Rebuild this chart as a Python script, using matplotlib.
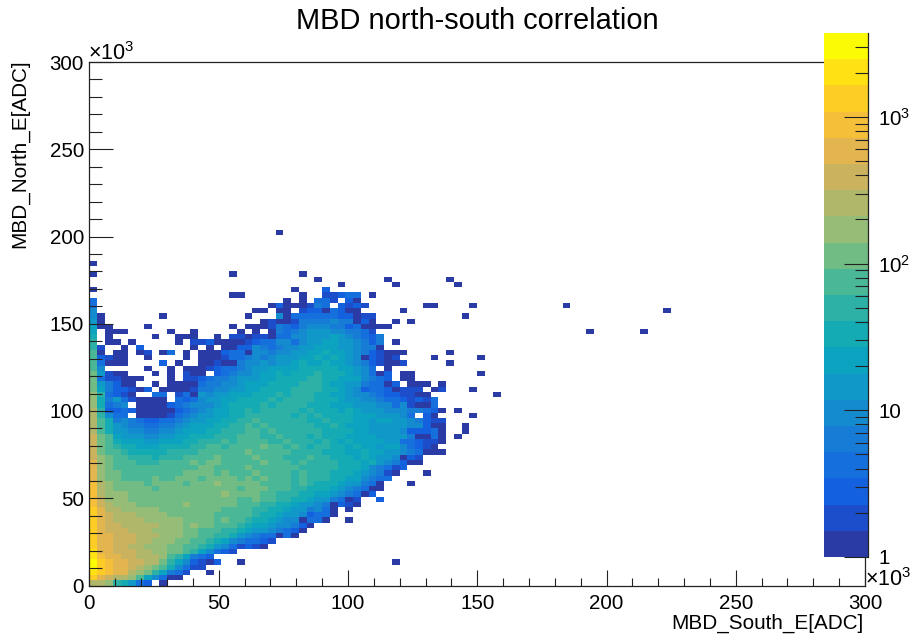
import numpy as np
import matplotlib
matplotlib.use('Agg')
import matplotlib.pyplot as plt
from matplotlib.colors import ListedColormap, BoundaryNorm

plt.rcParams['font.family'] = 'Liberation Sans'
plt.rcParams['mathtext.default'] = 'regular'

W, H = 912, 639

# colour of each contour band, bottom to top of the palette
band_colors = ['#2b3ba6', '#1c4ecb', '#1461df', '#1570de', '#177cd6',
               '#158bcf', '#0f98c8', '#0ca3c0', '#14abb4', '#2db1a6',
               '#4ab897', '#71bb85', '#95bd77', '#b0b76a', '#cab25f',
               '#e3b54f', '#f6bf3a', '#fdcc25', '#ffe114', '#fcfb06']
level_chars = '0123456789abcdefghij'
zmax = 3724

rows = [
    "0",
    "",
    "0......... ........0. .......0..",
    ".......... .......... .........0 ........0. ......0...",
    ".......... .......... .......... ..0......0 .......0..",
    "0......... .......... ......0... 2.........",
    ".......... ........00 .......0.. 11233.0...",
    "3......... .......... .....0.0.3 31.20.....",
    "3......... .......... ...0200014 3.2121.... ...00....0",
    "5......... .......... .00.00.122 03200..... 0.........",
    "50.......0 .......... 0...503333 3322011... ........0.",
    "60........ .......... ..01001444 4544020..0 .0........",
    "700....0.. ........0. 0001432455 544230000.",
    "7.000..... 0..0.....0 .0.0434566 6554431...",
    "8.0.....0. .000..0.11 0110335566 67654324..",
    "9.00.0.... .0.1120000 1233553566 77665424.0",
    "91..0.2... ...0.0.002 2543455667 77665440..",
    "a0.00.01.0 3.0.000233 0554556677 8776542100 0.....0...",
    "a2100..0.. ..0.000133 4545666778 7876502101 ....0..... 0.........",
    "a3000....2 .0..001004 5565667877 8776542100 1.....0...",
    "a5.....0.. 0.00012334 5667777888 8877653.0.",
    "b6100...0. 0.100.2345 5677878889 888765302. 00........ 0.........",
    "b311000... 0.11234456 6677888899 887775432. 00........",
    "b64200..0. 0000344556 7778888999 8776643302 .000.0....",
    "b7422102.0 0001445566 7788889999 8876523320 111.01...0",
    "c93210..33 .130656677 7888989998 8776554322 1100...... ..0.......",
    "c846310000 .323566778 8889899998 8876655433 21213.....",
    "c8345.0000 2345556788 8898999988 8777666553 51003.....",
    "d922320000 0234567788 9899999898 8878766655 544320.0..",
    "d9533.0000 1345667788 9999998989 8888777666 53.20....0",
    "da84543223 3456677889 9a99999988 9888776776 654211....",
    "da86544334 4567778899 a9a9999998 8987776666 655200..0.",
    "da86655445 5677788999 aa9a999999 8888776666 522230..0.",
    "eba7666556 677888999a aa99a99989 8887777666 640030.0..",
    "eba8777667 7788999a9a aaa99a9998 9878777766 332110....",
    "eba9887778 88899aa9aa aabaa9a989 9887877677 53210.....",
    "ebaa988888 9999aaaaaa baaaaa9999 8887787766 543000....",
    "ecbaa99989 99aaaabaaa abaaa999a9 9888787665 021.......",
    "fcbaaa999a aaababbaaa aabaaa9a99 9988878654 200.......",
    "fcbaaaaaaa aaaabbaaaa baaaaaa999 9988875431 2.........",
    "fcbbaaaaaa aabbbbabaa abaaaa9a99 9888765410 ...0......",
    "fcbbaaaaba abbbabbbba babaaa9a99 988775433.",
    "gdcbbbbabb bbabbbcbbb bbaaaa9a98 88766430.. .0........",
    "gdcbbbbbab bbbbbbbbba bbbaaa9988 87654300..",
    "gdcccbbbbb bbbbbbbcbb bbaa999887 7654302...",
    "gecccbbbbb bbbbbbbbba abaa998876 64301..2..",
    "gedcccbbbb bbcbbbbbba aa99887665 40210.....",
    "hfddcccccb bbbbbbbaaa a998876645 30.0......",
    "hfedddcccc bbbbbbaaaa a988766523 30........",
    "hfeddddccc ccbbbbabaa 9887655033 0..0......",
    "hfeedddddc ccbcbbaaa9 877655420.",
    "hfeeedddcc ccbbaaa998 76654320..",
    "hffeeedddc ccbbaa9986 5433030...",
    "hffeeeddcc cbbaa98754 3321......",
    "hffeeddccc bbaa986531 210.......",
    "iffeeeddcc bba975321.",
    "igffeedddc a97432....",
    "jhgffeeddb 9752102..0",
    "jhgffedcba 85311.....",
    "ihgffdcb97 431..0....",
    "hfeddca753 00........",
    "ddc98632.0",
]

# lone bins outside the strip above
far_cols = [24, 61, 74, 64, 71, 39]
far_rows = [67, 53, 52, 48, 48, 4]

x_edges = np.linspace(0, 300, 101)
y_edges = np.linspace(0, 300, 101)

band_edges = np.logspace(0, np.log10(zmax), 21)
band_mid = np.sqrt(band_edges[:-1] * band_edges[1:])

counts = np.full((100, 100), np.nan)
for k, r in enumerate(rows):
    j = 61 - k
    for i, c in enumerate(r.replace(' ', '')):
        if c != '.':
            counts[j, i] = band_mid[level_chars.index(c)]
for i, j in zip(far_cols, far_rows):
    counts[j, i] = band_mid[0]

cmap = ListedColormap(band_colors)
norm = BoundaryNorm(band_edges, 20)


def box(l, t, r, b):
    return [l / W, 1 - b / H, (r - l) / W, (b - t) / H]


fig = plt.figure(figsize=(W / 100, H / 100), dpi=100)
ax = fig.add_axes(box(89.5, 62, 865, 585.5))
ax.pcolormesh(x_edges, y_edges, np.ma.masked_invalid(counts), cmap=cmap, norm=norm,
              antialiased=True, linewidth=0, edgecolor='face')
ax.set_xlim(0, 300)
ax.set_ylim(0, 300)
ax.set_xticks(np.arange(0, 301, 50))
ax.set_yticks(np.arange(0, 301, 50))
ax.set_xticks(np.arange(0, 301, 10), minor=True)
ax.set_yticks(np.arange(0, 301, 10), minor=True)
ax.tick_params(axis='x', which='major', direction='in', length=11.3, width=0.8, labelsize=14.8, pad=6, color='#222222')
ax.tick_params(axis='x', which='minor', direction='in', length=5.8, width=0.8, color='#222222')
ax.tick_params(axis='y', which='major', direction='in', length=17.3, width=0.8, labelsize=14.8, pad=4, color='#222222')
ax.tick_params(axis='y', which='minor', direction='in', length=9.4, width=0.8, color='#222222')
for s in ax.spines.values():
    s.set_linewidth(0.9)
    s.set_color('#222222')

cax = fig.add_axes(box(824, 33, 868.5, 557))
cax.pcolormesh([0, 1], band_edges, np.array(band_mid[:, None]), cmap=cmap, norm=norm)
cax.set_yscale('log')
cax.set_ylim(1, zmax)
cax.set_xlim(0, 1)
cax.set_xticks([])
cax.yaxis.tick_right()
cax.set_yticks([1, 10, 100, 1000])
cax.set_yticklabels(['1', '10', '$10^{2}$', '$10^{3}$'])
cax.set_yticks([m * d for d in [1, 10, 100, 1000] for m in range(2, 10) if m * d < zmax], minor=True)
cax.set_yticklabels([], minor=True)
cax.tick_params(axis='y', which='major', direction='in', length=17.3, width=0.8, labelsize=14.8, pad=7, color='#222222')
cax.tick_params(axis='y', which='minor', direction='in', length=9.4, width=0.8, color='#222222')
cax.get_yticklabels()[0].set_y(1)
for name, s in cax.spines.items():
    s.set_visible(name == 'right')
    s.set_linewidth(0.9)
    s.set_color('#222222')

fig.text(477 / W, 1 - 21 / H, 'MBD north-south correlation', fontsize=20.9, ha='center', va='center')
fig.text(864 / W, 1 - 623 / H, 'MBD_South_E[ADC]', fontsize=14.9, ha='right', va='center')
fig.text(20 / W, 1 - 59 / H, 'MBD_North_E[ADC]', fontsize=14.9, rotation=90, ha='center', va='top')
fig.text(88 / W, 1 - 65 / H, '×$10^{3}$', fontsize=15.5, ha='left', va='bottom')
fig.text(865 / W, 1 - 591 / H, '×$10^{3}$', fontsize=15.5, ha='left', va='bottom')

fig.savefig('out.png', dpi=100)
